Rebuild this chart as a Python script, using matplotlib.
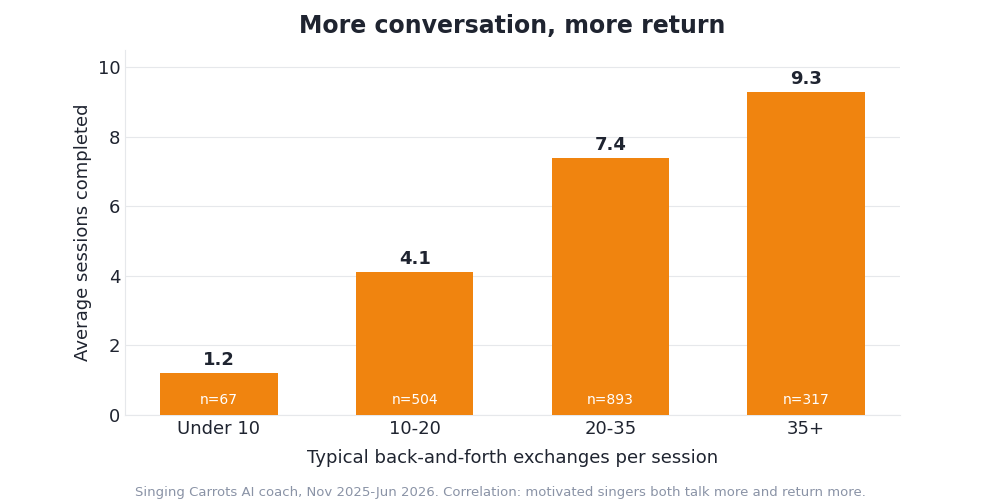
import numpy as np
import matplotlib
matplotlib.use('Agg')
import matplotlib.pyplot as plt

categories = ['Under 10', '10-20', '20-35', '35+']
avg_sessions = [1.2, 4.1, 7.4, 9.3]
sample_sizes = [67, 504, 893, 317]

ORANGE = '#F0840F'
DARK = '#1F2430'
GRID = '#E6E8EB'

fig, ax = plt.subplots(figsize=(10, 5), dpi=100)
fig.subplots_adjust(left=0.125, right=0.9, top=0.9, bottom=0.17)

x = np.arange(len(categories))
bars = ax.bar(x, avg_sessions, width=0.6, color=ORANGE, zorder=3)

for xi, v, n in zip(x, avg_sessions, sample_sizes):
    ax.text(xi, v + 0.12, f'{v:.1f}', ha='center', va='bottom',
            fontsize=13, fontweight='bold', color=DARK, zorder=4)
    ax.text(xi, 0.42, f'n={n}', ha='center', va='center',
            fontsize=10, color='white', zorder=4)

ax.set_ylim(0, 10.5)
ax.set_xticks(x)
ax.set_xticklabels(categories)
ax.tick_params(axis='both', labelsize=13, colors=DARK, length=0)
ax.set_yticks([0, 2, 4, 6, 8, 10])
ax.grid(axis='y', color=GRID, linewidth=0.8, zorder=0)

for side in ['top', 'right']:
    ax.spines[side].set_visible(False)
for side in ['left', 'bottom']:
    ax.spines[side].set_color(GRID)

ax.set_xlabel('Typical back-and-forth exchanges per session', fontsize=13, color=DARK, labelpad=8)
ax.set_ylabel('Average sessions completed', fontsize=13, color=DARK)
ax.set_title('More conversation, more return', fontsize=17, fontweight='bold', color=DARK, pad=12)

fig.text(0.5, 0.002, 'Singing Carrots AI coach, Nov 2025-Jun 2026. Correlation: motivated singers both talk more and return more.',
         ha='center', va='bottom', fontsize=9.5, color='#8A93A6')

fig.savefig('out.png', dpi=100)
